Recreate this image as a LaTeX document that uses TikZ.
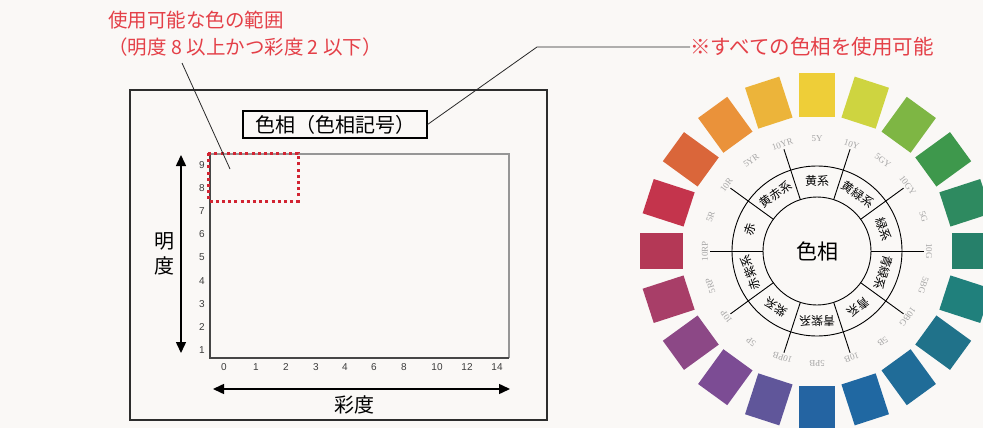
\documentclass[tikz,border=0pt]{standalone}
\usepackage{fontspec}
\setmainfont{Liberation Sans}
\newfontfamily\jp{Noto Sans CJK JP}
\newfontfamily\hueserif{Liberation Serif}
\usetikzlibrary{arrows.meta}
\definecolor{bgc}{RGB}{250,248,246}
\definecolor{redtxt}{RGB}{228,64,72}
\definecolor{reddot}{RGB}{210,36,50}
\definecolor{framedark}{RGB}{70,70,70}
\definecolor{framelight}{RGB}{150,150,150}
\definecolor{huegray}{RGB}{165,165,165}
\definecolor{h5R}{RGB}{196,52,76}
\definecolor{h10R}{RGB}{218,102,58}
\definecolor{h5YR}{RGB}{234,146,58}
\definecolor{h10YR}{RGB}{236,180,58}
\definecolor{h5Y}{RGB}{238,206,56}
\definecolor{h10Y}{RGB}{206,212,64}
\definecolor{h5GY}{RGB}{126,182,68}
\definecolor{h10GY}{RGB}{62,152,76}
\definecolor{h5G}{RGB}{46,138,96}
\definecolor{h10G}{RGB}{38,128,106}
\definecolor{h5BG}{RGB}{32,128,124}
\definecolor{h10BG}{RGB}{32,114,138}
\definecolor{h5B}{RGB}{32,108,152}
\definecolor{h10B}{RGB}{32,104,162}
\definecolor{h5PB}{RGB}{36,100,162}
\definecolor{h10PB}{RGB}{96,86,154}
\definecolor{h5P}{RGB}{124,76,148}
\definecolor{h10P}{RGB}{140,72,134}
\definecolor{h5RP}{RGB}{168,62,104}
\definecolor{h10RP}{RGB}{180,56,86}
\tikzset{
  redlabel/.style={text=redtxt, font=\jp\fontsize{19.5}{21}\selectfont, inner sep=0pt},
  jplabel/.style={font=\jp\fontsize{20}{23}\selectfont, inner sep=0pt},
  ticklabel/.style={font=\fontsize{10}{10}\selectfont, text={rgb,255:red,60;green,60;blue,60}, inner sep=0pt},
  huelabel/.style={font=\hueserif\fontsize{9}{10}\selectfont, text=huegray, inner sep=0pt},
  sectorlabel/.style={font=\jp\fontsize{12}{12}\selectfont, inner sep=0pt},
  swatch/.style={minimum width=36pt, minimum height=43pt, inner sep=0pt, draw=none},
  leader/.style={line width=0.8pt, draw={rgb,255:red,40;green,40;blue,40}},
  bigarrow/.style={line width=1.5pt, {Triangle[length=11pt,width=10pt]}-{Triangle[length=11pt,width=10pt]}}
}
\begin{document}
\begin{tikzpicture}[x=1pt,y=-1pt]
\useasboundingbox (0,0) rectangle (983,428);
\clip (0,0) rectangle (983,428);
\fill[bgc] (0,0) rectangle (983,428);

% ---------- left panel ----------
\draw[line width=1.3pt, draw={rgb,255:red,45;green,45;blue,45}] (130,90) rectangle (547,420);
\node[draw, line width=1.1pt, minimum width=184pt, minimum height=27pt, inner sep=0pt, jplabel, fill=bgc] (title) at (335,124.5) {色相（色相記号）};

% plot frame
\draw[framelight, line width=1.2pt] (210,154) -- (509,154) -- (509,358);
\draw[framedark, line width=1.2pt] (210,154) -- (210,358) -- (509,358);

% red dotted region
\draw[reddot, line width=3pt, dash pattern=on 3pt off 3.2pt] (208,153) rectangle (298,201);

% y ticks
\foreach \n in {1,...,9} {
  \node[ticklabel] (y\n) at (202,{350-(\n-1)*23.1}) {\n};
}
% x ticks
\foreach \v/\xx in {0/224,1/256,2/286,3/316,4/345,6/374,8/404,10/437,12/467,14/497} {
  \node[ticklabel] (x\v) at (\xx,367) {\v};
}

% arrows
\coordinate (vtop) at (181,155);
\coordinate (vbot) at (181,353);
\draw[bigarrow] (vtop) -- (vbot);
\coordinate (hleft) at (213,389);
\coordinate (hright) at (510,389);
\draw[bigarrow] (hleft) -- (hright);
\node[jplabel, align=center] (meido) at (164,253.5) {明\\[2pt]度};
\node[jplabel] (saido) at (354,405) {彩度};

% red annotation top-left
\node[redlabel] (range1) at (196,20) {使用可能な色の範囲};
\node[redlabel] (range2) at (245,47) {（明度 8 以上かつ彩度 2 以下）};
\coordinate (l1a) at (182,63);
\coordinate (l1b) at (230,169);
\draw[leader] (l1a) -- (l1b);

% annotation top-right
\node[redlabel, anchor=west, font=\jp\fontsize{20.5}{22}\selectfont] (allhue) at (690,47) {※すべての色相を使用可能};
\coordinate (bend) at (537,47);
\draw[leader] (title.east) -- (bend) -- (allhue.west);

% ---------- hue wheel ----------
\coordinate (wc) at (817,251);
\foreach \a/\lab in {162/5R,144/10R,126/5YR,108/10YR,90/5Y,72/10Y,54/5GY,36/10GY,18/5G,0/10G,-18/5BG,-36/10BG,-54/5B,-72/10B,-90/5PB,-108/10PB,-126/5P,-144/10P,-162/5RP,180/10RP} {
  \node[swatch, fill=h\lab, rotate=\a-90] (sw\lab) at ({817+156*cos(\a)},{251-156*sin(\a)}) {};
  \node[huelabel, rotate=\a-90] (hl\lab) at ({817+112*cos(\a)},{251-112*sin(\a)}) {\lab};
}
\draw[line width=0.9pt] (wc) circle[radius=54];
\draw[line width=0.9pt] (wc) circle[radius=85];
\foreach \a in {0,36,...,324} {
  \draw[line width=0.9pt] ({817+54*cos(\a)},{251-54*sin(\a)}) -- ({817+107*cos(\a)},{251-107*sin(\a)});
}
\foreach \a/\txt/\nm in {162/赤/s1,126/黄赤系/s2,90/黄系/s3,54/黄緑系/s4,18/緑系/s5,-18/青緑系/s6,-54/青系/s7,-90/青紫系/s8,-126/紫系/s9,198/赤紫系/s10} {
  \node[sectorlabel, rotate=\a-90] (\nm) at ({817+70*cos(\a)},{251-70*sin(\a)}) {\txt};
}
\node[font=\jp\fontsize{21}{23}\selectfont, inner sep=0pt] (center) at (wc) {色相};
\end{tikzpicture}
\end{document}
